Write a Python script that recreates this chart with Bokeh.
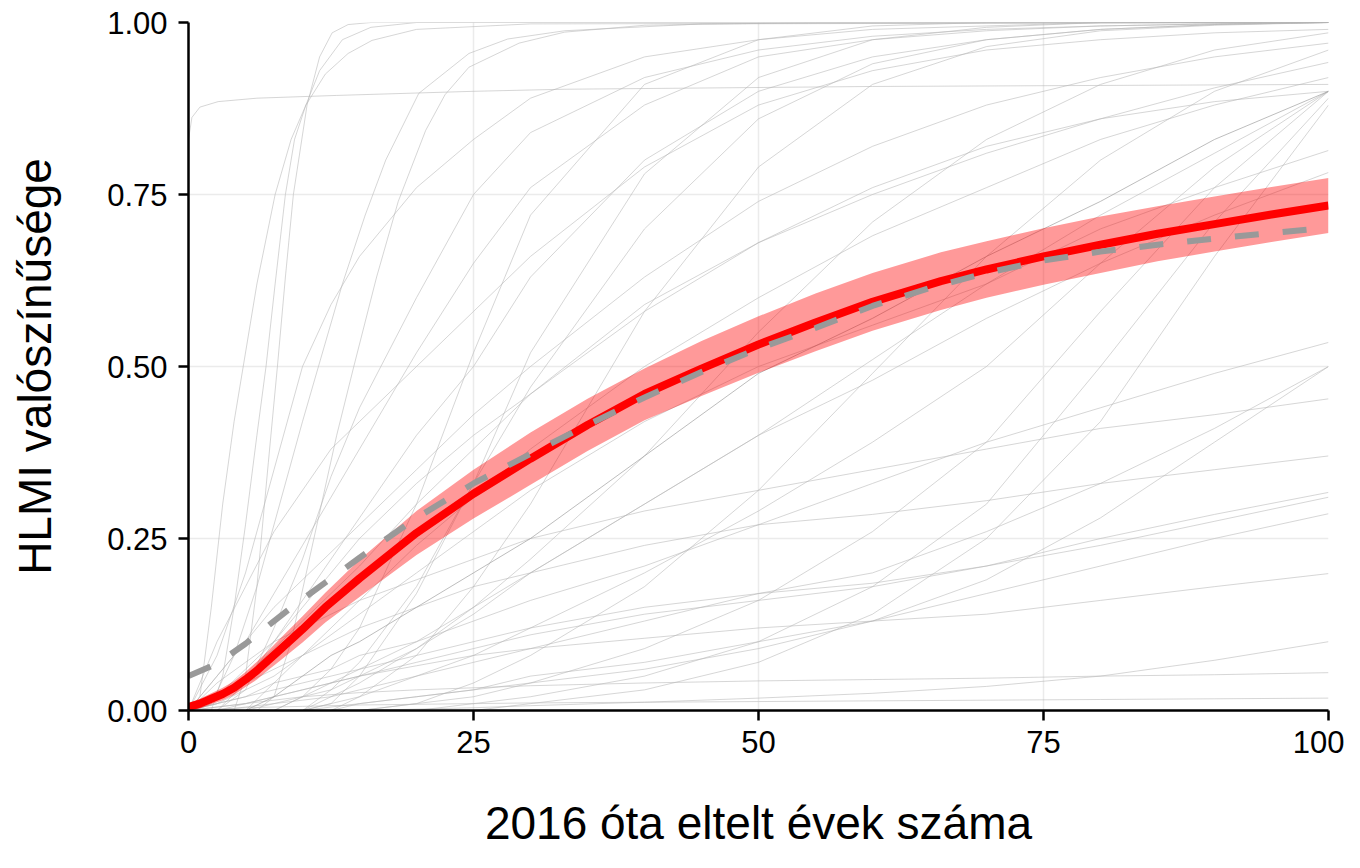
from bokeh.plotting import figure
from bokeh.models import Range1d, FixedTicker, PrintfTickFormatter
from bokeh.embed import file_html
from bokeh.resources import INLINE

# ---------------- data ----------------
x_ticks = [0, 25, 50, 75, 100]
y_ticks = [0, 0.25, 0.5, 0.75, 1.0]
x_title = "2016 óta eltelt évek száma"
y_title = "HLMI valószínűsége"

# aggregate (red) curve and its band
mean_x = [0, 1, 2, 3, 4, 5, 6, 7, 8, 10, 12, 15, 20, 25, 30, 35, 40, 45, 50, 55, 60, 66, 70, 75, 80, 85, 90, 95, 100]
mean_y = [0.005, 0.010, 0.017, 0.024, 0.033, 0.045, 0.058, 0.073, 0.088, 0.118, 0.150, 0.192, 0.258, 0.315,
          0.366, 0.415, 0.460, 0.497, 0.532, 0.564, 0.594, 0.624, 0.641, 0.660, 0.677, 0.693, 0.707, 0.721, 0.734]
band_upper = [0.011, 0.017, 0.025, 0.033, 0.043, 0.056, 0.071, 0.087, 0.104, 0.137, 0.171, 0.219, 0.290, 0.350,
              0.404, 0.453, 0.497, 0.537, 0.573, 0.606, 0.636, 0.666, 0.682, 0.701, 0.718, 0.733, 0.747, 0.761, 0.774]
band_lower = [0.000, 0.003, 0.009, 0.015, 0.023, 0.034, 0.045, 0.059, 0.072, 0.099, 0.128, 0.165, 0.226, 0.279,
              0.328, 0.377, 0.422, 0.457, 0.491, 0.522, 0.552, 0.582, 0.600, 0.619, 0.636, 0.653, 0.667, 0.681, 0.694]

# grey dashed curve
dash_x = [0, 2.5, 5, 7.5, 10, 15, 20, 25, 30, 35, 40, 45, 50, 55, 60, 65, 70, 75, 80, 85, 90, 95, 100]
dash_y = [0.050, 0.068, 0.097, 0.130, 0.162, 0.222, 0.280, 0.330, 0.373, 0.415, 0.455, 0.492, 0.526, 0.556,
          0.588, 0.614, 0.636, 0.654, 0.667, 0.677, 0.686, 0.694, 0.702]

# individual curves sampled on a common grid
GX = [0, 2.5, 5, 7.5, 10, 12.5, 15, 20, 25, 30, 40, 50, 60, 70, 80, 90, 100]
grid_curves = [
    [0, 0, 0.03, 0.12, 0.22, 0.34, 0.44, 0.60, 0.75, 0.84, 0.92, 0.96, 0.98, 0.99, 0.995, 0.998, 1.0],
    [0, 0.05, 0.10, 0.17, 0.24, 0.31, 0.38, 0.52, 0.65, 0.76, 0.88, 0.95, 0.975, 0.988, 0.995, 0.998, 1.0],
    [0, 0.10, 0.18, 0.26, 0.32, 0.38, 0.42, 0.50, 0.58, 0.66, 0.79, 0.88, 0.93, 0.96, 0.975, 0.985, 0.99],
    [0, 0, 0, 0, 0.02, 0.06, 0.12, 0.30, 0.52, 0.72, 0.91, 0.975, 0.995, 1, 1, 1, 1],
    [0, 0, 0.04, 0.10, 0.16, 0.22, 0.28, 0.40, 0.50, 0.63, 0.80, 0.90, 0.95, 0.975, 0.99, 0.997, 1.0],
    [0, 0, 0, 0, 0, 0.03, 0.07, 0.18, 0.33, 0.52, 0.78, 0.92, 0.975, 0.993, 1, 1, 1],
    [0, 0.05, 0.10, 0.15, 0.19, 0.23, 0.27, 0.35, 0.43, 0.50, 0.63, 0.74, 0.82, 0.88, 0.92, 0.95, 0.97],
    [0, 0, 0, 0, 0, 0.01, 0.05, 0.17, 0.33, 0.47, 0.70, 0.86, 0.94, 0.975, 0.99, 0.997, 1.0],
    [0, 0.02, 0.06, 0.10, 0.15, 0.20, 0.25, 0.33, 0.40, 0.46, 0.58, 0.68, 0.76, 0.82, 0.86, 0.885, 0.90],
    [0, 0.08, 0.20, 0.35, 0.50, 0.59, 0.66, 0.76, 0.83, 0.89, 0.95, 0.975, 0.99, 0.995, 1, 1, 1],
    [0, 0, 0, 0, 0, 0, 0.02, 0.08, 0.18, 0.30, 0.58, 0.79, 0.91, 0.965, 0.988, 0.996, 1.0],
    [0, 0, 0, 0.04, 0.08, 0.12, 0.16, 0.24, 0.31, 0.38, 0.50, 0.60, 0.69, 0.76, 0.83, 0.88, 0.92],
    [0, 0, 0, 0, 0, 0.02, 0.04, 0.09, 0.15, 0.22, 0.37, 0.55, 0.71, 0.83, 0.91, 0.96, 0.985],
    [0, 0, 0, 0, 0.02, 0.04, 0.06, 0.10, 0.15, 0.20, 0.30, 0.40, 0.51, 0.62, 0.72, 0.81, 0.90],
    [0, 0, 0, 0, 0, 0, 0, 0.01, 0.04, 0.08, 0.18, 0.32, 0.49, 0.66, 0.80, 0.90, 0.96],
    [0, 0, 0, 0, 0, 0.01, 0.02, 0.05, 0.08, 0.12, 0.20, 0.29, 0.39, 0.50, 0.65, 0.79, 0.90],
    [0, 0, 0, 0, 0, 0, 0, 0.01, 0.02, 0.04, 0.09, 0.16, 0.26, 0.39, 0.58, 0.76, 0.90],
    [0, 0, 0, 0, 0, 0, 0, 0, 0.01, 0.02, 0.05, 0.10, 0.18, 0.30, 0.50, 0.71, 0.89],
    [0, 0, 0, 0, 0, 0, 0, 0, 0, 0.01, 0.03, 0.07, 0.14, 0.25, 0.42, 0.66, 0.88],
    [0, 0.01, 0.02, 0.04, 0.05, 0.06, 0.08, 0.10, 0.13, 0.16, 0.21, 0.27, 0.33, 0.39, 0.44, 0.49, 0.535],
    [0, 0.01, 0.03, 0.05, 0.08, 0.11, 0.14, 0.20, 0.26, 0.32, 0.42, 0.50, 0.56, 0.62, 0.70, 0.76, 0.814],
    [0, 0, 0, 0.01, 0.02, 0.03, 0.05, 0.09, 0.14, 0.20, 0.30, 0.40, 0.48, 0.57, 0.65, 0.72, 0.782],
    [0, 0.02, 0.05, 0.09, 0.13, 0.17, 0.21, 0.30, 0.38, 0.46, 0.59, 0.68, 0.75, 0.81, 0.86, 0.905, 0.942],
    [0, 0, 0.005, 0.01, 0.015, 0.02, 0.03, 0.05, 0.07, 0.09, 0.13, 0.17, 0.20, 0.26, 0.33, 0.41, 0.50],
    [0, 0, 0, 0, 0, 0, 0.01, 0.02, 0.03, 0.04, 0.06, 0.09, 0.13, 0.19, 0.28, 0.39, 0.50],
    [0, 0.04, 0.07, 0.10, 0.12, 0.14, 0.16, 0.19, 0.22, 0.25, 0.29, 0.32, 0.35, 0.38, 0.41, 0.43, 0.453],
    [0, 0.02, 0.04, 0.06, 0.08, 0.10, 0.12, 0.15, 0.18, 0.20, 0.24, 0.27, 0.285, 0.305, 0.33, 0.35, 0.37],
    [0, 0, 0.01, 0.02, 0.03, 0.04, 0.05, 0.07, 0.09, 0.11, 0.14, 0.16, 0.18, 0.21, 0.25, 0.285, 0.317],
    [0, 0.01, 0.02, 0.03, 0.04, 0.05, 0.06, 0.08, 0.10, 0.12, 0.15, 0.17, 0.185, 0.21, 0.24, 0.275, 0.31],
    [0, 0, 0, 0, 0, 0.005, 0.01, 0.02, 0.03, 0.05, 0.07, 0.10, 0.13, 0.17, 0.21, 0.25, 0.286],
    [0, 0.005, 0.01, 0.02, 0.03, 0.04, 0.05, 0.065, 0.08, 0.09, 0.105, 0.12, 0.13, 0.14, 0.16, 0.18, 0.199],
    [0, 0, 0, 0, 0, 0, 0, 0.002, 0.004, 0.007, 0.012, 0.018, 0.025, 0.035, 0.05, 0.073, 0.10],
    [0, 0.005, 0.01, 0.015, 0.02, 0.023, 0.026, 0.03, 0.033, 0.036, 0.04, 0.043, 0.045, 0.047, 0.05, 0.052, 0.055],
    [0, 0.002, 0.004, 0.005, 0.006, 0.007, 0.008, 0.009, 0.01, 0.011, 0.012, 0.013, 0.014, 0.015, 0.016, 0.017, 0.018],
]
# darker individual curve
dark_curve = [0, 0, 0, 0.02, 0.05, 0.08, 0.10, 0.15, 0.20, 0.25, 0.37, 0.49, 0.57, 0.66, 0.74, 0.83, 0.90]

# fast-rising curves with their own sample points
fast_x = [
    [0, 1, 2, 3, 4, 4.8, 6, 7.6, 9, 10.3, 12, 14, 16.1, 20, 30, 100],
    [0, 2, 3, 4, 5, 6, 6.8, 7.6, 8.5, 9.3, 10.3, 11.5, 13.5, 16, 20, 100],
    [0, 4, 5, 6, 7, 7.8, 8.5, 9.2, 10.4, 11.5, 12.6, 14, 16, 100],
    [0, 2, 4, 6, 8, 10, 11.4, 13.5, 15.5, 17.3, 20.2, 24.6, 28, 33, 45, 100],
    [0, 6, 7.5, 9, 11, 13, 14.5, 16.5, 18.4, 20.8, 22.5, 24.6, 29, 33, 40, 55, 100],
    [0, 0.3, 1, 2.6, 6, 13, 25, 33, 60, 100],
]
fast_y = [
    [0, 0.02, 0.15, 0.30, 0.42, 0.50, 0.62, 0.75, 0.83, 0.88, 0.925, 0.955, 0.974, 0.99, 0.998, 1.0],
    [0, 0, 0.05, 0.15, 0.27, 0.40, 0.50, 0.62, 0.75, 0.83, 0.88, 0.93, 0.975, 0.993, 1.0, 1.0],
    [0, 0, 0.05, 0.18, 0.36, 0.50, 0.63, 0.75, 0.88, 0.95, 0.985, 0.997, 1.0, 1.0],
    [0, 0.01, 0.08, 0.18, 0.30, 0.42, 0.50, 0.62, 0.72, 0.80, 0.897, 0.955, 0.976, 0.988, 0.998, 1.0],
    [0, 0, 0.02, 0.10, 0.25, 0.40, 0.50, 0.63, 0.74, 0.843, 0.895, 0.935, 0.97, 0.986, 0.996, 1.0, 1.0],
    [0.83, 0.862, 0.877, 0.885, 0.89, 0.894, 0.90, 0.903, 0.907, 0.91],
]

FONT = "Liberation Sans"

p = figure(width=1344, height=852, x_range=Range1d(0, 100), y_range=Range1d(0, 1),
           output_backend="svg", toolbar_location=None,
           min_border_left=188, min_border_right=16, min_border_top=22, min_border_bottom=142)
p.outline_line_color = None
p.background_fill_color = "white"
p.border_fill_color = "white"

# grid
for g in (p.xgrid, p.ygrid):
    g.grid_line_color = "#ebebeb"
    g.grid_line_width = 1.5
p.xaxis.ticker = FixedTicker(ticks=x_ticks)
p.yaxis.ticker = FixedTicker(ticks=y_ticks)
p.yaxis.formatter = PrintfTickFormatter(format="%.2f")

for ax in (p.xaxis, p.yaxis):
    ax.axis_line_width = 2.5
    ax.axis_line_color = "black"
    ax.major_tick_line_width = 2.5
    ax.major_tick_line_color = "black"
    ax.major_tick_out = 10
    ax.major_tick_in = 0
    ax.minor_tick_line_color = None
    ax.major_label_text_font = FONT
    ax.major_label_text_font_size = "31px"
    ax.major_label_text_color = "black"
    ax.axis_label_text_font = FONT
    ax.axis_label_text_font_size = "46px"
    ax.axis_label_text_font_style = "normal"
    ax.axis_label_text_color = "black"
p.xaxis.major_label_standoff = 10
p.yaxis.major_label_standoff = 11
p.xaxis.axis_label = x_title
p.yaxis.axis_label = y_title
p.xaxis.axis_label_standoff = 41
p.yaxis.axis_label_standoff = 43

# individual curves
p.multi_line(xs=[GX] * len(grid_curves) + fast_x, ys=grid_curves + fast_y,
             line_color="#b5b5b5", line_alpha=0.55, line_width=1)
p.line(GX, dark_curve, line_color="#9a9a9a", line_alpha=0.65, line_width=1)

# band, mean curve, dashed curve
p.varea(x=mean_x, y1=band_lower, y2=band_upper, fill_color="red", fill_alpha=0.4)
p.line(mean_x, mean_y, line_color="#ff0000", line_width=8)
p.line(dash_x, dash_y, line_color="#999999", line_width=6, line_dash="24 24")

open("out.html", "w").write(file_html(p, INLINE))
